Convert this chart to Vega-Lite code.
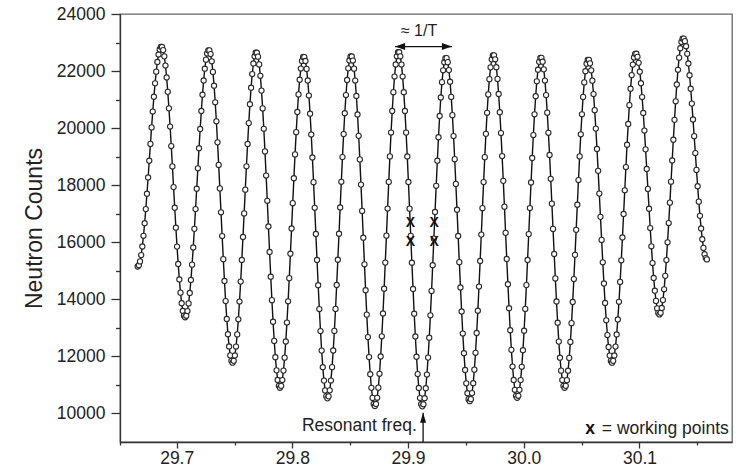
{
"$schema":"https://vega.github.io/schema/vega-lite/v6.json",
"width":612,"height":428,
"autosize":{"type":"none"},
"padding":{"left":120,"top":14,"right":13,"bottom":33},
"background":"white",
"config":{"font":"Liberation Sans","view":{"stroke":"#666","strokeWidth":1.3},
"axis":{"grid":false,"domainColor":"#333","domainWidth":1.3,"tickColor":"#333","tickWidth":1.3,"labelColor":"#222","labelFontSize":17.5,"titleColor":"#222"}},
"data":{"values":[
{"freq":29.6663,"counts":15150},{"freq":29.6673,"counts":15195},{"freq":29.6683,"counts":15330},{"freq":29.6693,"counts":15550},{"freq":29.6703,"counts":15852},{"freq":29.6713,"counts":16227},{"freq":29.6723,"counts":16668},{"freq":29.6733,"counts":17163},{"freq":29.6743,"counts":17702},{"freq":29.6753,"counts":18271},
{"freq":29.6763,"counts":18857},{"freq":29.6773,"counts":19447},{"freq":29.6783,"counts":20026},{"freq":29.6793,"counts":20582},{"freq":29.6803,"counts":21100},{"freq":29.6813,"counts":21570},{"freq":29.6823,"counts":21979},{"freq":29.6833,"counts":22319},{"freq":29.6843,"counts":22580},{"freq":29.6853,"counts":22759},
{"freq":29.6863,"counts":22849},{"freq":29.6873,"counts":22846},{"freq":29.6883,"counts":22735},{"freq":29.6893,"counts":22516},{"freq":29.6903,"counts":22194},{"freq":29.6913,"counts":21776},{"freq":29.6923,"counts":21272},{"freq":29.6933,"counts":20694},{"freq":29.6943,"counts":20056},{"freq":29.6953,"counts":19372},
{"freq":29.6963,"counts":18659},{"freq":29.6973,"counts":17933},{"freq":29.6983,"counts":17212},{"freq":29.6993,"counts":16511},{"freq":29.7003,"counts":15848},{"freq":29.7013,"counts":15239},{"freq":29.7023,"counts":14696},{"freq":29.7033,"counts":14234},{"freq":29.7043,"counts":13863},{"freq":29.7053,"counts":13591},
{"freq":29.7063,"counts":13426},{"freq":29.7073,"counts":13370},{"freq":29.7083,"counts":13425},{"freq":29.7093,"counts":13588},{"freq":29.7103,"counts":13857},{"freq":29.7113,"counts":14223},{"freq":29.7123,"counts":14679},{"freq":29.7133,"counts":15215},{"freq":29.7143,"counts":15817},{"freq":29.7153,"counts":16471},
{"freq":29.7163,"counts":17163},{"freq":29.7173,"counts":17876},{"freq":29.7183,"counts":18592},{"freq":29.7193,"counts":19296},{"freq":29.7203,"counts":19971},{"freq":29.7213,"counts":20602},{"freq":29.7223,"counts":21172},{"freq":29.7233,"counts":21669},{"freq":29.7243,"counts":22082},{"freq":29.7253,"counts":22400},
{"freq":29.7263,"counts":22617},{"freq":29.7273,"counts":22726},{"freq":29.7283,"counts":22724},{"freq":29.7293,"counts":22596},{"freq":29.7303,"counts":22343},{"freq":29.7313,"counts":21970},{"freq":29.7323,"counts":21488},{"freq":29.7333,"counts":20906},{"freq":29.7343,"counts":20239},{"freq":29.7353,"counts":19502},
{"freq":29.7363,"counts":18712},{"freq":29.7373,"counts":17888},{"freq":29.7383,"counts":17050},{"freq":29.7393,"counts":16217},{"freq":29.7403,"counts":15408},{"freq":29.7413,"counts":14642},{"freq":29.7423,"counts":13938},{"freq":29.7433,"counts":13312},{"freq":29.7443,"counts":12778},{"freq":29.7453,"counts":12349},
{"freq":29.7463,"counts":12035},{"freq":29.7473,"counts":11844},{"freq":29.7483,"counts":11780},{"freq":29.7493,"counts":11844},{"freq":29.7503,"counts":12034},{"freq":29.7513,"counts":12345},{"freq":29.7523,"counts":12771},{"freq":29.7533,"counts":13300},{"freq":29.7543,"counts":13922},{"freq":29.7553,"counts":14621},
{"freq":29.7563,"counts":15381},{"freq":29.7573,"counts":16184},{"freq":29.7583,"counts":17012},{"freq":29.7593,"counts":17844},{"freq":29.7603,"counts":18662},{"freq":29.7613,"counts":19445},{"freq":29.7623,"counts":20177},{"freq":29.7633,"counts":20839},{"freq":29.7643,"counts":21417},{"freq":29.7653,"counts":21896},
{"freq":29.7663,"counts":22266},{"freq":29.7673,"counts":22517},{"freq":29.7683,"counts":22644},{"freq":29.7693,"counts":22643},{"freq":29.7703,"counts":22505},{"freq":29.7713,"counts":22234},{"freq":29.7723,"counts":21834},{"freq":29.7733,"counts":21316},{"freq":29.7743,"counts":20692},{"freq":29.7753,"counts":19976},
{"freq":29.7763,"counts":19185},{"freq":29.7773,"counts":18338},{"freq":29.7783,"counts":17454},{"freq":29.7793,"counts":16555},{"freq":29.7803,"counts":15660},{"freq":29.7813,"counts":14792},{"freq":29.7823,"counts":13971},{"freq":29.7833,"counts":13215},{"freq":29.7843,"counts":12543},{"freq":29.7853,"counts":11971},
{"freq":29.7863,"counts":11511},{"freq":29.7873,"counts":11174},{"freq":29.7883,"counts":10969},{"freq":29.7893,"counts":10900},{"freq":29.7903,"counts":10968},{"freq":29.7913,"counts":11171},{"freq":29.7923,"counts":11503},{"freq":29.7933,"counts":11957},{"freq":29.7943,"counts":12522},{"freq":29.7953,"counts":13186},
{"freq":29.7963,"counts":13932},{"freq":29.7973,"counts":14743},{"freq":29.7983,"counts":15600},{"freq":29.7993,"counts":16483},{"freq":29.8003,"counts":17371},{"freq":29.8013,"counts":18243},{"freq":29.8023,"counts":19080},{"freq":29.8033,"counts":19860},{"freq":29.8043,"counts":20567},{"freq":29.8053,"counts":21183},
{"freq":29.8063,"counts":21695},{"freq":29.8073,"counts":22089},{"freq":29.8083,"counts":22357},{"freq":29.8093,"counts":22493},{"freq":29.8103,"counts":22492},{"freq":29.8113,"counts":22353},{"freq":29.8123,"counts":22076},{"freq":29.8133,"counts":21669},{"freq":29.8143,"counts":21141},{"freq":29.8153,"counts":20505},
{"freq":29.8163,"counts":19776},{"freq":29.8173,"counts":18970},{"freq":29.8183,"counts":18107},{"freq":29.8193,"counts":17207},{"freq":29.8203,"counts":16291},{"freq":29.8213,"counts":15380},{"freq":29.8223,"counts":14495},{"freq":29.8233,"counts":13659},{"freq":29.8243,"counts":12889},{"freq":29.8253,"counts":12204},
{"freq":29.8263,"counts":11621},{"freq":29.8273,"counts":11152},{"freq":29.8283,"counts":10809},{"freq":29.8293,"counts":10600},{"freq":29.8303,"counts":10530},{"freq":29.8313,"counts":10600},{"freq":29.8323,"counts":10810},{"freq":29.8333,"counts":11153},{"freq":29.8343,"counts":11623},{"freq":29.8353,"counts":12207},
{"freq":29.8363,"counts":12893},{"freq":29.8373,"counts":13664},{"freq":29.8383,"counts":14502},{"freq":29.8393,"counts":15388},{"freq":29.8403,"counts":16300},{"freq":29.8413,"counts":17218},{"freq":29.8423,"counts":18120},{"freq":29.8433,"counts":18984},{"freq":29.8443,"counts":19791},{"freq":29.8453,"counts":20522},
{"freq":29.8463,"counts":21159},{"freq":29.8473,"counts":21687},{"freq":29.8483,"counts":22095},{"freq":29.8493,"counts":22372},{"freq":29.8503,"counts":22512},{"freq":29.8513,"counts":22512},{"freq":29.8523,"counts":22369},{"freq":29.8533,"counts":22085},{"freq":29.8543,"counts":21668},{"freq":29.8553,"counts":21128},
{"freq":29.8563,"counts":20477},{"freq":29.8573,"counts":19730},{"freq":29.8583,"counts":18905},{"freq":29.8593,"counts":18021},{"freq":29.8603,"counts":17099},{"freq":29.8613,"counts":16160},{"freq":29.8623,"counts":15227},{"freq":29.8633,"counts":14321},{"freq":29.8643,"counts":13464},{"freq":29.8653,"counts":12676},
{"freq":29.8663,"counts":11975},{"freq":29.8673,"counts":11377},{"freq":29.8683,"counts":10897},{"freq":29.8693,"counts":10546},{"freq":29.8703,"counts":10332},{"freq":29.8713,"counts":10260},{"freq":29.8723,"counts":10333},{"freq":29.8733,"counts":10549},{"freq":29.8743,"counts":10905},{"freq":29.8753,"counts":11391},
{"freq":29.8763,"counts":11996},{"freq":29.8773,"counts":12705},{"freq":29.8783,"counts":13503},{"freq":29.8793,"counts":14371},{"freq":29.8803,"counts":15288},{"freq":29.8813,"counts":16232},{"freq":29.8823,"counts":17182},{"freq":29.8833,"counts":18116},{"freq":29.8843,"counts":19010},{"freq":29.8853,"counts":19846},
{"freq":29.8863,"counts":20602},{"freq":29.8873,"counts":21261},{"freq":29.8883,"counts":21808},{"freq":29.8893,"counts":22230},{"freq":29.8903,"counts":22517},{"freq":29.8913,"counts":22662},{"freq":29.8923,"counts":22662},{"freq":29.8933,"counts":22517},{"freq":29.8943,"counts":22229},{"freq":29.8953,"counts":21807},
{"freq":29.8963,"counts":21260},{"freq":29.8973,"counts":20600},{"freq":29.8983,"counts":19843},{"freq":29.8993,"counts":19007},{"freq":29.9003,"counts":18112},{"freq":29.9013,"counts":17178},{"freq":29.9023,"counts":16227},{"freq":29.9033,"counts":15282},{"freq":29.9043,"counts":14364},{"freq":29.9053,"counts":13496},
{"freq":29.9063,"counts":12697},{"freq":29.9073,"counts":11987},{"freq":29.9083,"counts":11382},{"freq":29.9093,"counts":10895},{"freq":29.9103,"counts":10540},{"freq":29.9113,"counts":10323},{"freq":29.9123,"counts":10250},{"freq":29.9133,"counts":10322},{"freq":29.9143,"counts":10535},{"freq":29.9153,"counts":10885},
{"freq":29.9163,"counts":11363},{"freq":29.9173,"counts":11958},{"freq":29.9183,"counts":12656},{"freq":29.9193,"counts":13441},{"freq":29.9203,"counts":14295},{"freq":29.9213,"counts":15197},{"freq":29.9223,"counts":16126},{"freq":29.9233,"counts":17061},{"freq":29.9243,"counts":17979},{"freq":29.9253,"counts":18859},
{"freq":29.9263,"counts":19681},{"freq":29.9273,"counts":20425},{"freq":29.9283,"counts":21074},{"freq":29.9293,"counts":21612},{"freq":29.9303,"counts":22027},{"freq":29.9313,"counts":22309},{"freq":29.9323,"counts":22452},{"freq":29.9333,"counts":22452},{"freq":29.9343,"counts":22312},{"freq":29.9353,"counts":22034},
{"freq":29.9363,"counts":21625},{"freq":29.9373,"counts":21094},{"freq":29.9383,"counts":20455},{"freq":29.9393,"counts":19722},{"freq":29.9403,"counts":18913},{"freq":29.9413,"counts":18045},{"freq":29.9423,"counts":17140},{"freq":29.9433,"counts":16219},{"freq":29.9443,"counts":15304},{"freq":29.9453,"counts":14415},
{"freq":29.9463,"counts":13574},{"freq":29.9473,"counts":12801},{"freq":29.9483,"counts":12113},{"freq":29.9493,"counts":11526},{"freq":29.9503,"counts":11055},{"freq":29.9513,"counts":10711},{"freq":29.9523,"counts":10501},{"freq":29.9533,"counts":10430},{"freq":29.9543,"counts":10501},{"freq":29.9553,"counts":10713},
{"freq":29.9563,"counts":11060},{"freq":29.9573,"counts":11535},{"freq":29.9583,"counts":12126},{"freq":29.9593,"counts":12820},{"freq":29.9603,"counts":13600},{"freq":29.9613,"counts":14448},{"freq":29.9623,"counts":15344},{"freq":29.9633,"counts":16268},{"freq":29.9643,"counts":17196},{"freq":29.9653,"counts":18108},
{"freq":29.9663,"counts":18983},{"freq":29.9673,"counts":19799},{"freq":29.9683,"counts":20538},{"freq":29.9693,"counts":21183},{"freq":29.9703,"counts":21717},{"freq":29.9713,"counts":22130},{"freq":29.9723,"counts":22410},{"freq":29.9733,"counts":22552},{"freq":29.9743,"counts":22552},{"freq":29.9753,"counts":22412},
{"freq":29.9763,"counts":22134},{"freq":29.9773,"counts":21726},{"freq":29.9783,"counts":21197},{"freq":29.9793,"counts":20559},{"freq":29.9803,"counts":19827},{"freq":29.9813,"counts":19019},{"freq":29.9823,"counts":18153},{"freq":29.9833,"counts":17249},{"freq":29.9843,"counts":16330},{"freq":29.9853,"counts":15416},
{"freq":29.9863,"counts":14529},{"freq":29.9873,"counts":13689},{"freq":29.9883,"counts":12917},{"freq":29.9893,"counts":12230},{"freq":29.9903,"counts":11644},{"freq":29.9913,"counts":11174},{"freq":29.9923,"counts":10830},{"freq":29.9933,"counts":10620},{"freq":29.9943,"counts":10550},{"freq":29.9953,"counts":10620},
{"freq":29.9963,"counts":10828},{"freq":29.9973,"counts":11169},{"freq":29.9983,"counts":11636},{"freq":29.9993,"counts":12217},{"freq":30.0003,"counts":12899},{"freq":30.0013,"counts":13665},{"freq":30.0023,"counts":14499},{"freq":30.0033,"counts":15379},{"freq":30.0043,"counts":16287},{"freq":30.0053,"counts":17199},
{"freq":30.0063,"counts":18096},{"freq":30.0073,"counts":18955},{"freq":30.0083,"counts":19757},{"freq":30.0093,"counts":20484},{"freq":30.0103,"counts":21117},{"freq":30.0113,"counts":21642},{"freq":30.0123,"counts":22048},{"freq":30.0133,"counts":22323},{"freq":30.0143,"counts":22463},{"freq":30.0153,"counts":22463},
{"freq":30.0163,"counts":22328},{"freq":30.0173,"counts":22060},{"freq":30.0183,"counts":21667},{"freq":30.0193,"counts":21157},{"freq":30.0203,"counts":20542},{"freq":30.0213,"counts":19837},{"freq":30.0223,"counts":19059},{"freq":30.0233,"counts":18224},{"freq":30.0243,"counts":17354},{"freq":30.0253,"counts":16468},
{"freq":30.0263,"counts":15588},{"freq":30.0273,"counts":14733},{"freq":30.0283,"counts":13924},{"freq":30.0293,"counts":13180},{"freq":30.0303,"counts":12518},{"freq":30.0313,"counts":11954},{"freq":30.0323,"counts":11501},{"freq":30.0333,"counts":11170},{"freq":30.0343,"counts":10968},{"freq":30.0353,"counts":10900},
{"freq":30.0363,"counts":10967},{"freq":30.0373,"counts":11168},{"freq":30.0383,"counts":11498},{"freq":30.0393,"counts":11948},{"freq":30.0403,"counts":12508},{"freq":30.0413,"counts":13166},{"freq":30.0423,"counts":13906},{"freq":30.0433,"counts":14710},{"freq":30.0443,"counts":15559},{"freq":30.0453,"counts":16435},
{"freq":30.0463,"counts":17315},{"freq":30.0473,"counts":18180},{"freq":30.0483,"counts":19009},{"freq":30.0493,"counts":19783},{"freq":30.0503,"counts":20484},{"freq":30.0513,"counts":21095},{"freq":30.0523,"counts":21602},{"freq":30.0533,"counts":21993},{"freq":30.0543,"counts":22259},{"freq":30.0553,"counts":22393},
{"freq":30.0563,"counts":22394},{"freq":30.0573,"counts":22270},{"freq":30.0583,"counts":22025},{"freq":30.0593,"counts":21664},{"freq":30.0603,"counts":21195},{"freq":30.0613,"counts":20631},{"freq":30.0623,"counts":19984},{"freq":30.0633,"counts":19269},{"freq":30.0643,"counts":18503},{"freq":30.0653,"counts":17705},
{"freq":30.0663,"counts":16891},{"freq":30.0673,"counts":16083},{"freq":30.0683,"counts":15298},{"freq":30.0693,"counts":14556},{"freq":30.0703,"counts":13873},{"freq":30.0713,"counts":13265},{"freq":30.0723,"counts":12748},{"freq":30.0733,"counts":12332},{"freq":30.0743,"counts":12028},{"freq":30.0753,"counts":11842},
{"freq":30.0763,"counts":11780},{"freq":30.0773,"counts":11844},{"freq":30.0783,"counts":12033},{"freq":30.0793,"counts":12343},{"freq":30.0803,"counts":12767},{"freq":30.0813,"counts":13295},{"freq":30.0823,"counts":13914},{"freq":30.0833,"counts":14611},{"freq":30.0843,"counts":15368},{"freq":30.0853,"counts":16168},
{"freq":30.0863,"counts":16992},{"freq":30.0873,"counts":17822},{"freq":30.0883,"counts":18636},{"freq":30.0893,"counts":19417},{"freq":30.0903,"counts":20146},{"freq":30.0913,"counts":20806},{"freq":30.0923,"counts":21381},{"freq":30.0933,"counts":21859},{"freq":30.0943,"counts":22227},{"freq":30.0953,"counts":22478},
{"freq":30.0963,"counts":22604},{"freq":30.0973,"counts":22607},{"freq":30.0983,"counts":22500},{"freq":30.0993,"counts":22288},{"freq":30.1003,"counts":21978},{"freq":30.1013,"counts":21575},{"freq":30.1023,"counts":21089},{"freq":30.1033,"counts":20532},{"freq":30.1043,"counts":19916},{"freq":30.1053,"counts":19257},
{"freq":30.1063,"counts":18570},{"freq":30.1073,"counts":17870},{"freq":30.1083,"counts":17174},{"freq":30.1093,"counts":16499},{"freq":30.1103,"counts":15859},{"freq":30.1113,"counts":15272},{"freq":30.1123,"counts":14749},{"freq":30.1133,"counts":14303},{"freq":30.1143,"counts":13945},{"freq":30.1153,"counts":13683},
{"freq":30.1163,"counts":13524},{"freq":30.1173,"counts":13470},{"freq":30.1183,"counts":13527},{"freq":30.1193,"counts":13696},{"freq":30.1203,"counts":13973},{"freq":30.1213,"counts":14351},{"freq":30.1223,"counts":14823},{"freq":30.1233,"counts":15376},{"freq":30.1243,"counts":15998},{"freq":30.1253,"counts":16674},
{"freq":30.1263,"counts":17389},{"freq":30.1273,"counts":18125},{"freq":30.1283,"counts":18865},{"freq":30.1293,"counts":19593},{"freq":30.1303,"counts":20290},{"freq":30.1313,"counts":20941},{"freq":30.1323,"counts":21530},{"freq":30.1333,"counts":22044},{"freq":30.1343,"counts":22470},{"freq":30.1353,"counts":22799},
{"freq":30.1363,"counts":23023},{"freq":30.1373,"counts":23136},{"freq":30.1383,"counts":23139},{"freq":30.1393,"counts":23048},{"freq":30.1403,"counts":22869},{"freq":30.1413,"counts":22606},{"freq":30.1423,"counts":22265},{"freq":30.1433,"counts":21853},{"freq":30.1443,"counts":21381},{"freq":30.1453,"counts":20860},
{"freq":30.1463,"counts":20302},{"freq":30.1473,"counts":19719},{"freq":30.1483,"counts":19127},{"freq":30.1493,"counts":18537},{"freq":30.1503,"counts":17965},{"freq":30.1513,"counts":17424},{"freq":30.1523,"counts":16926},{"freq":30.1533,"counts":16483},{"freq":30.1543,"counts":16106},{"freq":30.1553,"counts":15802},
{"freq":30.1563,"counts":15581},{"freq":30.1573,"counts":15445},{"freq":30.1583,"counts":15400}
]},
"layer":[
{"mark":{"type":"line","color":"#111","strokeWidth":1.4},
 "encoding":{
  "x":{"field":"freq","type":"quantitative","scale":{"domain":[29.651,30.18],"nice":false,"zero":false},
       "axis":{"orient":"bottom","values":[29.7,29.8,29.9,30.0,30.1],"format":".1f","tickSize":6,"labelPadding":1,"title":null}},
  "y":{"field":"counts","type":"quantitative","scale":{"domain":[9000,24000],"nice":false,"zero":false},
       "axis":{"orient":"left","values":[10000,12000,14000,16000,18000,20000,22000,24000],"format":"d","tickSize":9,"labelPadding":6,
               "title":"Neutron Counts","titleFontSize":23,"titleFontWeight":"normal","titlePadding":10}}}},
{"mark":{"type":"point","shape":"circle","filled":true,"fill":"white","stroke":"#2a2a2a","strokeWidth":1.1,"size":27,"opacity":1},
 "encoding":{
  "x":{"field":"freq","type":"quantitative","axis":{"orient":"bottom","values":[29.651,29.75,29.85,29.95,30.05,30.15],"labels":false,"domain":false,"tickSize":3,"title":null}},
  "y":{"field":"counts","type":"quantitative","axis":{"orient":"left","values":[11000,13000,15000,17000,19000,21000,23000],"labels":false,"domain":false,"tickSize":4.5,"title":null}}}},
{"data":{"values":[{"f1":29.8888,"f2":29.9379,"c":22860}]},
 "mark":{"type":"rule","color":"#111","strokeWidth":1.3},
 "encoding":{"x":{"field":"f1","type":"quantitative","axis":null},"x2":{"field":"f2"},"y":{"field":"c","type":"quantitative","axis":null}}},
{"data":{"values":[{"f":29.8888,"c":22860}]},
 "mark":{"type":"point","shape":"M0,0L1,-0.35L1,0.35Z","filled":true,"color":"#111","opacity":1,"size":400,"strokeWidth":0},
 "encoding":{"x":{"field":"f","type":"quantitative","axis":null},"y":{"field":"c","type":"quantitative","axis":null}}},
{"data":{"values":[{"f":29.9379,"c":22860}]},
 "mark":{"type":"point","shape":"M0,0L-1,-0.35L-1,0.35Z","filled":true,"color":"#111","opacity":1,"size":400,"strokeWidth":0},
 "encoding":{"x":{"field":"f","type":"quantitative","axis":null},"y":{"field":"c","type":"quantitative","axis":null}}},
{"data":{"values":[{"f":29.913,"c1":9000,"c2":10025}]},
 "mark":{"type":"rule","color":"#111","strokeWidth":1.3},
 "encoding":{"x":{"field":"f","type":"quantitative","axis":null},"y":{"field":"c1","type":"quantitative","axis":null},"y2":{"field":"c2"}}},
{"data":{"values":[{"f":29.913,"c":10025}]},
 "mark":{"type":"point","shape":"M0,0L-0.3,1L0.3,1Z","filled":true,"color":"#111","opacity":1,"size":400,"strokeWidth":0},
 "encoding":{"x":{"field":"f","type":"quantitative","axis":null},"y":{"field":"c","type":"quantitative","axis":null}}},
{"data":{"values":[{"f":29.9095,"c":23416,"label":"≈ 1/T"}]},
 "mark":{"type":"text","fontSize":16,"align":"center","baseline":"middle","color":"#222"},
 "encoding":{"x":{"field":"f","type":"quantitative","axis":null},"y":{"field":"c","type":"quantitative","axis":null},"text":{"field":"label"}}},
{"data":{"values":[{"f":29.9075,"c":9380,"label":"Resonant freq."}]},
 "mark":{"type":"text","fontSize":17.5,"align":"right","baseline":"alphabetic","color":"#222"},
 "encoding":{"x":{"field":"f","type":"quantitative","axis":null},"y":{"field":"c","type":"quantitative","axis":null},"text":{"field":"label"}}},
{"data":{"values":[{"f":30.1772,"c":9265,"label":"= working points"}]},
 "mark":{"type":"text","fontSize":17.5,"align":"right","baseline":"alphabetic","color":"#222"},
 "encoding":{"x":{"field":"f","type":"quantitative","axis":null},"y":{"field":"c","type":"quantitative","axis":null},"text":{"field":"label"}}},
{"data":{"values":[{"f":30.0531,"c":9265,"label":"x"}]},
 "mark":{"type":"text","fontSize":17.5,"fontWeight":"bold","align":"left","baseline":"alphabetic","color":"#111"},
 "encoding":{"x":{"field":"f","type":"quantitative","axis":null},"y":{"field":"c","type":"quantitative","axis":null},"text":{"field":"label"}}},
{"data":{"values":[{"f":29.9021,"c":16680,"label":"X"},{"f":29.9021,"c":16000,"label":"X"},{"f":29.9226,"c":16680,"label":"X"},{"f":29.9226,"c":16000,"label":"X"}]},
 "mark":{"type":"text","fontSize":14,"font":"Liberation Sans Narrow, Liberation Sans","fontWeight":"bold","align":"center","baseline":"middle","color":"#111"},
 "encoding":{"x":{"field":"f","type":"quantitative","axis":null},"y":{"field":"c","type":"quantitative","axis":null},"text":{"field":"label"}}}
],
"resolve":{"axis":{"x":"independent","y":"independent"}}
}
